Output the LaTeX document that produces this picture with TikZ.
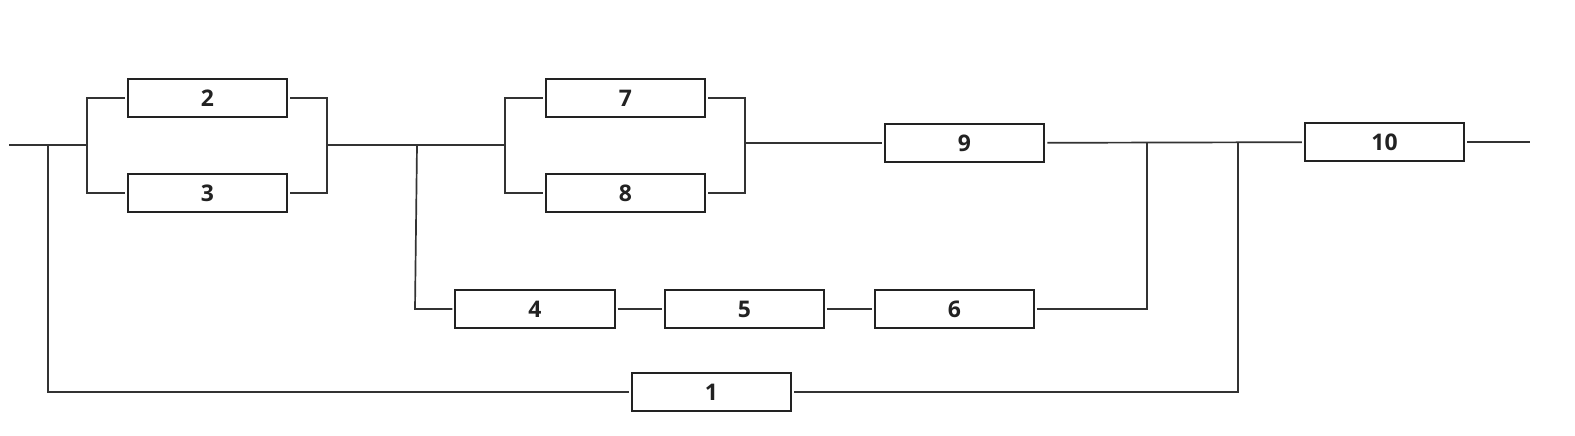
\documentclass[tikz,border=0pt]{standalone}
\usepackage{fontspec}
\setmainfont{Open Sans}
\definecolor{boxc}{HTML}{222222}
\definecolor{linec}{HTML}{333333}
\begin{document}
\begin{tikzpicture}[x=0.5bp,y=-0.5bp,
  blk/.style={draw=boxc,line width=1.05pt,minimum width=79.7bp,minimum height=19.2bp,inner sep=0pt,
    font=\fontsize{11.5}{13}\selectfont\bfseries,text=boxc},
  wire/.style={draw=linec,line width=0.85pt,shorten >=1pt,shorten <=1pt},
  wirej/.style={draw=linec,line width=0.85pt}]
\useasboundingbox (0,0) rectangle (1575,436);
\node[blk] (n2) at (207.5,98) {2};
\node[blk] (n3) at (207.5,193) {3};
\node[blk] (n7) at (625.5,98) {7};
\node[blk] (n8) at (625.5,193) {8};
\node[blk] (n9) at (964.5,143) {9};
\node[blk] (n10) at (1384.5,142) {10};
\node[blk] (n4) at (535,309) {4};
\node[blk] (n5) at (744.5,309) {5};
\node[blk] (n6) at (954.5,309) {6};
\node[blk] (n1) at (711.5,392) {1};
\coordinate (in) at (9,145);
\coordinate (j1) at (48,145);
\coordinate (s1) at (87,145);
\coordinate (m1) at (327,145);
\coordinate (j2) at (417,145);
\coordinate (k4) at (415,309);
\coordinate (s2) at (505,145);
\coordinate (m2) at (745,143);
\coordinate (j4) at (1147,143);
\coordinate (j5) at (1238,142);
\coordinate (out) at (1530,142);
% main line
\draw[wirej] (in) -- (s1);
\draw[wire,shorten <=0pt] (s1) |- (n2);
\draw[wire,shorten <=0pt] (s1) |- (n3);
\draw[wire,shorten >=0pt] (n2) -| (m1);
\draw[wire,shorten >=0pt] (n3) -| (m1);
\draw[wirej] (m1) -- (s2);
\draw[wire,shorten <=0pt] (s2) |- (n7);
\draw[wire,shorten <=0pt] (s2) |- (n8);
\draw[wire,shorten >=0pt] (n7) -| (m2);
\draw[wire,shorten >=0pt] (n8) -| (m2);
\draw[wire,shorten <=0pt] (m2) -- (n9);
\draw[wire] (n9) -- (n10);
\draw[wire,shorten >=0pt] (n10) -- (out);
% lower branch 4-5-6
\draw[wire,shorten <=0pt] (j2) -- (k4) -- (n4);
\draw[wire] (n4) -- (n5);
\draw[wire] (n5) -- (n6);
\draw[wire,shorten >=0pt] (n6) -| (j4);
% bypass 1
\draw[wire,shorten <=0pt] (j1) |- (n1);
\draw[wire,shorten >=0pt] (n1) -| (j5);
\end{tikzpicture}
\end{document}
